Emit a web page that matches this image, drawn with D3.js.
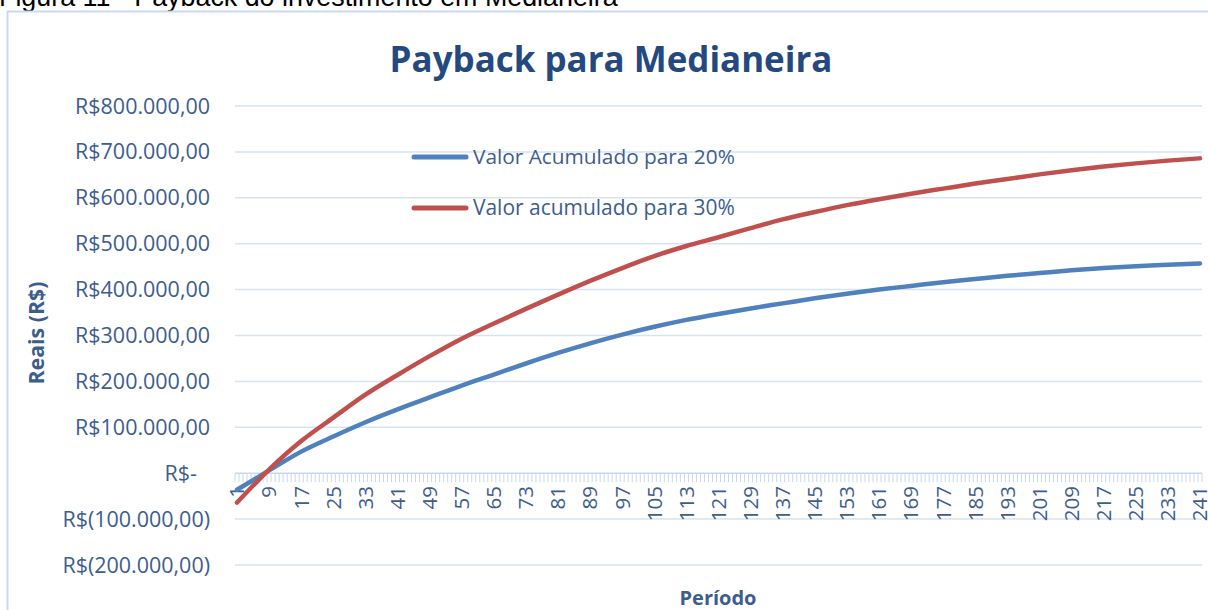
<!DOCTYPE html>
<html><head><meta charset="utf-8">
<script src="https://cdn.jsdelivr.net/npm/d3@7"></script>
<style>
body{margin:0;background:#fff;overflow:hidden}
text{font-family:'Open Sans',sans-serif}
</style></head>
<body><svg id="c" width="1208" height="610"></svg>
<script>
// ---- data ----
const periods = d3.range(1, 242);
const xTickLabels = [1,9,17,25,33,41,49,57,65,73,81,89,97,105,113,121,129,137,145,153,161,169,177,185,193,201,209,217,225,233,241];
const yTickValues = [-200000,-100000,0,100000,200000,300000,400000,500000,600000,700000,800000];
const samplePeriods = xTickLabels;
const valor20 = [-36000,6000,47000,80000,111000,139000,165000,191000,215000,239000,262000,283000,302000,319000,334000,347000,359000,370000,381000,391000,400000,408000,416000,423000,430000,436000,442000,447000,451000,454000,457000];
const valor30 = [-64000,8000,70000,121000,171000,214000,255000,293000,326000,358000,389000,419000,447000,473000,495000,514000,534000,553000,569000,584000,597000,609000,620000,631000,641000,651000,660000,668000,675000,681000,686000];
const seriesNames = ["Valor Acumulado para 20%","Valor acumulado para 30%"];
const titleText = "Payback para Medianeira";
const captionText = "Figura 11 - Payback do investimento em Medianeira";

// ---- drawing ----
const svg = d3.select("#c");
const textCol = "#3d5d8d", gridCol = "#d6e3f3";
const colors = ["#4f81bd","#c0504d"];

function fit(sel, target){
  const w = sel.node().getComputedTextLength();
  const fs = parseFloat(sel.style("font-size"));
  sel.style("font-size", (fs*target/w)+"px");
}

// caption (partially cut off at top)
const cap = svg.append("text").attr("x",-1).attr("y",6)
  .style("font-family","'Liberation Sans',Arial,sans-serif").style("font-size","24px")
  .attr("fill","#000").text(captionText);
fit(cap, 619);

// frame
svg.append("rect").attr("x",7.5).attr("y",11.5).attr("width",1240).attr("height",640)
  .attr("fill","none").attr("stroke","#c9daf0").attr("stroke-width",2);

const x = d3.scaleBand().domain(periods).range([235,1202]).padding(0);
const y = d3.scaleLinear().domain([-200000,800000]).range([565,106]);

// gridlines
svg.append("g").selectAll("line").data(yTickValues.filter(v=>v!==0)).join("line")
  .attr("x1",235).attr("x2",1202).attr("y1",d=>y(d)).attr("y2",d=>y(d))
  .attr("stroke",gridCol).attr("stroke-width",1.5);

// y labels
const loc = d3.formatLocale({decimal:",",thousands:".",grouping:[3],currency:["R$",""]});
const f = loc.format(",.2f");
const fmtY = v => v===0 ? "R$-" : (v<0 ? "R$("+f(-v)+")" : "R$"+f(v));
const yl = svg.append("g").selectAll("text").data(yTickValues).join("text")
  .attr("x",d=>d===0?197:210).attr("y",d=>y(d)).attr("dy","0.35em")
  .attr("text-anchor","end").attr("fill",textCol).style("font-size","20px")
  .text(fmtY);
const ref = yl.filter(d=>d===800000);
fit(ref, 135);
yl.style("font-size", ref.style("font-size"));

// x axis line and minor ticks
svg.append("line").attr("x1",235).attr("x2",1202).attr("y1",y(0)).attr("y2",y(0))
  .attr("stroke","#c6d8ef").attr("stroke-width",1.5);
svg.append("g").selectAll("line").data(periods.concat([242])).join("line")
  .attr("x1",d=>d===242?1202:x(d)).attr("x2",d=>d===242?1202:x(d))
  .attr("y1",y(0)).attr("y2",y(0)+9)
  .attr("stroke","#c6d8ef").attr("stroke-width",1);

// x labels
const xl = svg.append("g").selectAll("text").data(xTickLabels).join("text")
  .attr("transform",d=>`translate(${x(d)+x.bandwidth()/2},486) rotate(-90)`)
  .attr("dy","0.36em").attr("text-anchor","end").attr("fill",textCol)
  .style("font-size","20.5px").text(d=>d);

// lines
const line = d3.line().x((d,i)=>x(samplePeriods[i])+x.bandwidth()/2).y(d=>y(d)).curve(d3.curveMonotoneX);
[valor20, valor30].forEach((s,i)=>{
  svg.append("path").datum(s).attr("d",line).attr("fill","none")
    .attr("stroke",colors[i]).attr("stroke-width",4.5).attr("stroke-linejoin","round").attr("stroke-linecap","round");
});

// legend
seriesNames.forEach((n,i)=>{
  const ly = 157 + i*51;
  svg.append("line").attr("x1",414).attr("x2",466).attr("y1",ly).attr("y2",ly)
    .attr("stroke",colors[i]).attr("stroke-width",5).attr("stroke-linecap","round");
  const t = svg.append("text").attr("x",473).attr("y",ly).attr("dy","0.35em")
    .attr("fill",textCol).style("font-size","18px").text(n);
  fit(t, 262);
});

// title
const tt = svg.append("text").attr("x",611).attr("y",72).attr("text-anchor","middle")
  .attr("fill","#24497e").style("font-weight","bold").style("font-size","30px").text(titleText);
fit(tt, 443);

// axis titles
const yt = svg.append("text").attr("transform","translate(37,333) rotate(-90)").attr("dy","0.35em")
  .attr("text-anchor","middle").attr("fill",textCol).style("font-weight","bold").style("font-size","18px").text("Reais (R$)");
fit(yt, 103);
const xt = svg.append("text").attr("x",718).attr("y",605).attr("text-anchor","middle")
  .attr("fill",textCol).style("font-weight","bold").style("font-size","18px").text("Período");
fit(xt, 77);
</script></body></html>
